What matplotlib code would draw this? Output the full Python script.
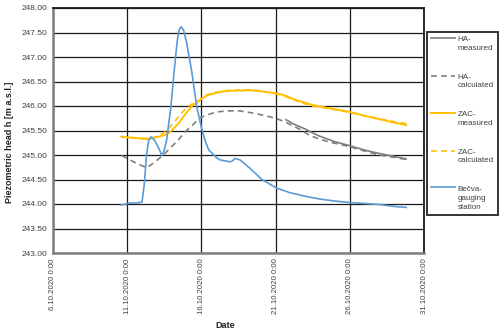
import matplotlib
matplotlib.use("Agg")
import matplotlib.pyplot as plt
import numpy as np

plt.rcParams['font.family'] = ['Liberation Sans', 'DejaVu Sans']

# x values: day of October 2020 (fractional)
becva_t = [10.6, 10.9, 11.2, 11.6, 12.0, 12.15, 12.3, 12.45, 12.6, 12.85, 13.1, 13.35, 13.5, 13.66,
           13.95, 14.15, 14.38, 14.5, 14.63, 14.8, 15.0, 15.35, 15.68, 15.97, 16.24, 16.5, 16.78,
           17.0, 17.25, 17.6, 17.93, 18.1, 18.26, 18.6, 19.27, 20.08, 21.03, 21.97, 23.12, 24.0,
           25.0, 26.0, 27.0, 28.0, 29.0, 29.8]
becva_h = [243.98, 244.0, 244.02, 244.02, 244.04, 244.4, 245.0, 245.3, 245.37, 245.3, 245.15, 244.99,
           245.1, 245.31, 246.0, 246.67, 247.35, 247.55, 247.62, 247.55, 247.3, 246.7, 246.0, 245.6,
           245.3, 245.1, 245.02, 244.95, 244.9, 244.88, 244.86, 244.88, 244.93, 244.9, 244.73,
           244.5, 244.33, 244.23, 244.15, 244.1, 244.06, 244.03, 244.01, 243.99, 243.95, 243.93]

zac_meas_t = [10.6, 11.0, 11.5, 12.08, 12.5, 12.9, 13.2, 13.66, 14.0, 14.56, 14.78, 15.1, 15.43,
              15.68, 15.97, 16.4, 16.78, 17.3, 17.9, 19.3, 20.0, 21.0, 21.6, 22.2, 22.6, 23.5,
              24.5, 26.0, 27.0, 28.0, 29.0, 29.8]
zac_meas_h = [245.37, 245.36, 245.35, 245.33, 245.33, 245.36, 245.38, 245.42, 245.5, 245.68, 245.78,
              245.9, 246.02, 246.06, 246.14, 246.22, 246.25, 246.29, 246.31, 246.32, 246.3, 246.26,
              246.22, 246.14, 246.1, 246.02, 245.96, 245.88, 245.8, 245.73, 245.66, 245.61]

zac_calc_t = [10.6, 11.0, 11.5, 12.08, 12.5, 12.9, 13.2, 13.5, 13.9, 14.3, 14.6, 15.0, 15.3,
              15.68, 15.97, 16.4, 16.78, 17.3, 17.9, 19.3, 20.0, 21.0, 21.6, 22.2, 22.6, 23.5,
              24.5, 26.0, 27.0, 28.0, 29.0, 29.8]
zac_calc_h = [245.38, 245.36, 245.35, 245.34, 245.34, 245.37, 245.4, 245.46, 245.58, 245.72, 245.84,
              245.96, 246.03, 246.08, 246.15, 246.23, 246.27, 246.3, 246.32, 246.33, 246.31, 246.25,
              246.2, 246.13, 246.08, 246.0, 245.95, 245.87, 245.8, 245.74, 245.68, 245.64]

ha_calc_t = [10.63, 11.0, 11.5, 12.0, 12.31, 12.7, 13.0, 13.32, 13.7, 14.1, 14.56, 15.0, 15.3, 15.9,
             16.4, 17.03, 17.8, 18.6, 19.4, 20.2, 21.0, 21.6, 22.0, 22.6, 23.3, 24.0, 24.7, 26.0,
             27.0, 28.0, 29.0, 29.8]
ha_calc_h = [244.99, 244.93, 244.85, 244.78, 244.74, 244.82, 244.89, 244.97, 245.08, 245.2, 245.35,
             245.5, 245.58, 245.76, 245.82, 245.88, 245.9, 245.9, 245.86, 245.81, 245.75, 245.68,
             245.62, 245.53, 245.4, 245.32, 245.26, 245.17, 245.08, 245.0, 244.95, 244.91]

ha_meas_t = [21.7, 22.3, 23.0, 23.3, 24.0, 25.0, 26.0, 27.0, 28.0, 29.0, 29.8]
ha_meas_h = [245.72, 245.62, 245.53, 245.48, 245.38, 245.27, 245.19, 245.1, 245.03, 244.97, 244.92]

xtick_pos = [6, 11, 16, 21, 26, 31]
xtick_labels = ['6.10.2020 0:00', '11.10.2020 0:00', '16.10.2020 0:00',
                '21.10.2020 0:00', '26.10.2020 0:00', '31.10.2020 0:00']
ytick_vals = [243.0, 243.5, 244.0, 244.5, 245.0, 245.5, 246.0, 246.5, 247.0, 247.5, 248.0]

fig = plt.figure(figsize=(5.0, 3.32), dpi=100)
ax = fig.add_axes([53/500, 1-253/332, (424-53)/500, (253-8)/332])

grey = '#7f7f7f'
orange = '#ffc000'
blue = '#5b9bd5'
lw = 1.2

ax.plot(ha_meas_t, ha_meas_h, color=grey, lw=lw, label='HA-\nmeasured')
ax.plot(ha_calc_t, ha_calc_h, color=grey, lw=lw, ls=(0, (3.5, 2.5)), label='HA-\ncalculated')
ax.plot(zac_meas_t, zac_meas_h, color=orange, lw=lw + 0.2, label='ZAC-\nmeasured')
ax.plot(zac_calc_t, zac_calc_h, color=orange, lw=lw, ls=(0, (3.5, 2.5)), label='ZAC-\ncalculated')
ax.plot(becva_t, becva_h, color=blue, lw=lw, label='Bečva-\ngauging\nstation')

ax.set_xlim(6, 31)
ax.set_ylim(243, 248)
ax.set_xticks(xtick_pos)
ax.set_xticklabels(xtick_labels, rotation=90, fontsize=5.6, color='#404040')
ax.set_yticks(ytick_vals)
ax.set_yticklabels([f'{v:.2f}' for v in ytick_vals], fontsize=6, color='#404040')
ax.tick_params(length=0, pad=4)
ax.grid(True, color='#1a1a1a', lw=0.9)
ax.set_axisbelow(True)
for s in ['top', 'right']:
    ax.spines[s].set_color('#1a1a1a')
    ax.spines[s].set_linewidth(1.3)
for s in ['left', 'bottom']:
    ax.spines[s].set_color('#7f7f7f')
    ax.spines[s].set_linewidth(1.8)

fig.text(225/500, 1-325/332, 'Date', fontsize=6.5, fontweight='bold', ha='center', va='center',
         color='#222222')
fig.text(10/500, 1-142/332, 'Piezometric head h [m a.s.l.]', fontsize=6.5, fontweight='bold',
         rotation=90, ha='center', va='center', color='#222222')

fs = 5.8
ls_ = 1.35
leg = fig.legend(loc='upper left', bbox_to_anchor=(427/500, 1-32/332), fontsize=fs,
                 frameon=True, fancybox=False, handlelength=3.0, handletextpad=0.3,
                 labelspacing=2.7, borderpad=0.5, borderaxespad=0)
leg.get_frame().set_edgecolor('#000000')
leg.get_frame().set_linewidth(1.4)
for t in leg.get_texts():
    t.set_color('#404040')
    t.set_linespacing(ls_)
# align each handle with the first line of its label
for h, t in zip(leg.legend_handles, leg.get_texts()):
    n = t.get_text().count('\n')
    y = np.asarray(h.get_ydata(), dtype=float)
    h.set_ydata(y + n * 0.5 * ls_ * fs)

fig.savefig('out.png', dpi=100)
